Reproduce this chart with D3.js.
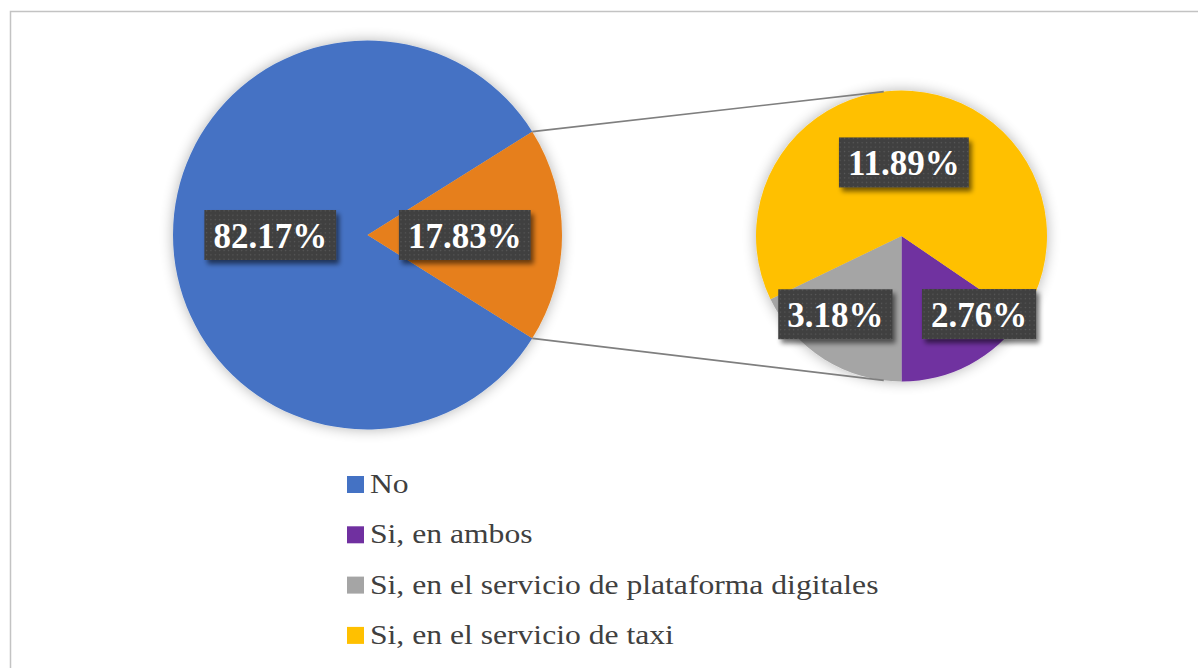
<!DOCTYPE html>
<html>
<head>
<meta charset="utf-8">
<script src="https://cdn.jsdelivr.net/npm/d3@7"></script>
<style>
  body { margin: 0; background: #fff; }
  svg { display: block; }
</style>
</head>
<body>
<svg id="chart" width="1198" height="668"></svg>
<script>
// main pie
var mainLabels = ['No', 'Si'];
var mainValues = [82.17, 17.83];
var mainColors = ['#4472C4', '#E67F1A'];

// breakdown of "Si"
var subLabels = ['Si, en ambos', 'Si, en el servicio de plataforma digitales', 'Si, en el servicio de taxi'];
var subValues = [2.76, 3.18, 11.89];
var subColors = ['#7030A0', '#A5A5A5', '#FFC000'];

var legendLabels = ['No', 'Si, en ambos', 'Si, en el servicio de plataforma digitales', 'Si, en el servicio de taxi'];
var legendColors = ['#4472C4', '#7030A0', '#A5A5A5', '#FFC000'];

// a single family name renders reliably here
var serif = 'Liberation Serif';

var svg = d3.select('#chart');
var defs = svg.append('defs');

// soft shadow round the pies
var glow = defs.append('filter').attr('id', 'glow')
  .attr('x', '-20%').attr('y', '-20%').attr('width', '140%').attr('height', '140%');
glow.append('feGaussianBlur').attr('in', 'SourceAlpha').attr('stdDeviation', 7).attr('result', 'b');
glow.append('feComponentTransfer').attr('in', 'b').attr('result', 'c')
  .append('feFuncA').attr('type', 'linear').attr('slope', 0.3);
var gm = glow.append('feMerge');
gm.append('feMergeNode').attr('in', 'c');
gm.append('feMergeNode').attr('in', 'SourceGraphic');

// label box shadow
var sh = defs.append('filter').attr('id', 'boxShadow')
  .attr('x', '-20%').attr('y', '-30%').attr('width', '150%').attr('height', '170%');
sh.append('feGaussianBlur').attr('in', 'SourceAlpha').attr('stdDeviation', 2.5).attr('result', 'b');
sh.append('feOffset').attr('in', 'b').attr('dx', 3).attr('dy', 4).attr('result', 'o');
sh.append('feComponentTransfer').attr('in', 'o').attr('result', 'c')
  .append('feFuncA').attr('type', 'linear').attr('slope', 0.55);
var sm = sh.append('feMerge');
sm.append('feMergeNode').attr('in', 'c');
sm.append('feMergeNode').attr('in', 'SourceGraphic');

// dotted fill of the label boxes
var pat = defs.append('pattern').attr('id', 'dots')
  .attr('patternUnits', 'userSpaceOnUse').attr('width', 4.4).attr('height', 4.4);
pat.append('rect').attr('width', 4.4).attr('height', 4.4).attr('fill', '#3f3f3f');
pat.append('rect').attr('x', 1.6).attr('y', 1.6).attr('width', 1.3).attr('height', 1.3).attr('fill', '#5a5a5a');

// chart border
svg.append('rect')
  .attr('x', 10.5).attr('y', 11.5).attr('width', 1200).attr('height', 700)
  .attr('fill', 'none').attr('stroke', '#c3c3c3').attr('stroke-width', 1.5);

var main = { cx: 367.5, cy: 235, r: 194.5 };
var sub = { cx: 901.5, cy: 236, r: 145.5 };

var share = mainValues[1] / d3.sum(mainValues);
var mainStart = Math.PI / 2 + share * Math.PI;
var mainPie = d3.pie().sort(null).startAngle(mainStart).endAngle(mainStart + 2 * Math.PI);
var mainArcs = mainPie(mainValues);

var subShare = subValues[0] / d3.sum(subValues);
var subStart = Math.PI - subShare * 2 * Math.PI;
var subPie = d3.pie().sort(null).startAngle(subStart).endAngle(subStart + 2 * Math.PI);
var subArcs = subPie(subValues);

var mainArc = d3.arc().innerRadius(0).outerRadius(main.r);
var subArc = d3.arc().innerRadius(0).outerRadius(sub.r);

var gMain = svg.append('g').attr('transform', 'translate(' + main.cx + ',' + main.cy + ')');
gMain.append('g').attr('filter', 'url(#glow)')
  .selectAll('path').data(mainArcs).enter().append('path')
  .attr('d', mainArc)
  .attr('fill', (d, i) => mainColors[i]);

var gSub = svg.append('g').attr('transform', 'translate(' + sub.cx + ',' + sub.cy + ')');
gSub.append('g').attr('filter', 'url(#glow)')
  .selectAll('path').data(subArcs).enter().append('path')
  .attr('d', subArc)
  .attr('fill', (d, i) => subColors[i]);

// connector lines
var pt = (c, a, r) => [c.cx + r * Math.sin(a), c.cy - r * Math.cos(a)];
var conn = [
  [pt(main, mainArcs[1].startAngle, main.r), pt(sub, -7 * Math.PI / 180, sub.r)],
  [pt(main, mainArcs[1].endAngle, main.r), pt(sub, 187 * Math.PI / 180, sub.r)]
];
svg.selectAll('line.conn').data(conn).enter().append('line')
  .attr('class', 'conn')
  .attr('x1', d => d[0][0]).attr('y1', d => d[0][1])
  .attr('x2', d => d[1][0]).attr('y2', d => d[1][1])
  .attr('stroke', '#7f7f7f').attr('stroke-width', 1.6);

// data labels
var fmt = v => v.toFixed(2) + '%';
function label(g, x, y, txt) {
  var lg = g.append('g').attr('transform', 'translate(' + x + ',' + y + ')');
  var box = lg.append('rect').attr('fill', 'url(#dots)').attr('filter', 'url(#boxShadow)');
  var t = lg.append('text')
    .attr('text-anchor', 'middle')
    .attr('y', 13)
    .attr('fill', '#fff')
    .attr('font-family', serif)
    .attr('font-weight', 'bold')
    .attr('font-size', 35)
    .text(txt);
  var w = t.node().getComputedTextLength() + 18;
  box.attr('x', -w / 2).attr('y', -25).attr('width', w).attr('height', 50);
}

mainArcs.forEach(function(d) {
  var c = d3.arc().innerRadius(0).outerRadius(main.r).centroid(d);
  label(gMain, c[0], c[1], fmt(d.value));
});

// small slices get pushed apart by hand, like Excel does to avoid overlap
var nudge = { 0: [30, -12], 1: [-12, -8], 2: [-3, -1] };
subArcs.forEach(function(d, i) {
  var c = d3.arc().innerRadius(0).outerRadius(sub.r * 1.4).centroid(d);
  var len = Math.hypot(c[0], c[1]);
  var k = i === 2 ? (sub.r / 2) / len : (sub.r * 0.7) / len;
  label(gSub, c[0] * k + nudge[i][0], c[1] * k + nudge[i][1], fmt(d.value));
});

// legend (text in the original is a little wider than plain Times)
var legend = svg.append('g').attr('transform', 'translate(347,476)');
var items = legend.selectAll('g').data(legendLabels).enter().append('g')
  .attr('transform', (d, i) => 'translate(0,' + i * 50.3 + ')');
items.append('rect').attr('width', 17).attr('height', 17)
  .attr('fill', (d, i) => legendColors[i]);
items.append('text')
  .attr('transform', 'translate(23,17) scale(1.13,1)')
  .attr('fill', '#404040')
  .attr('font-family', serif)
  .attr('font-size', 28)
  .text(d => d);
</script>
</body>
</html>
